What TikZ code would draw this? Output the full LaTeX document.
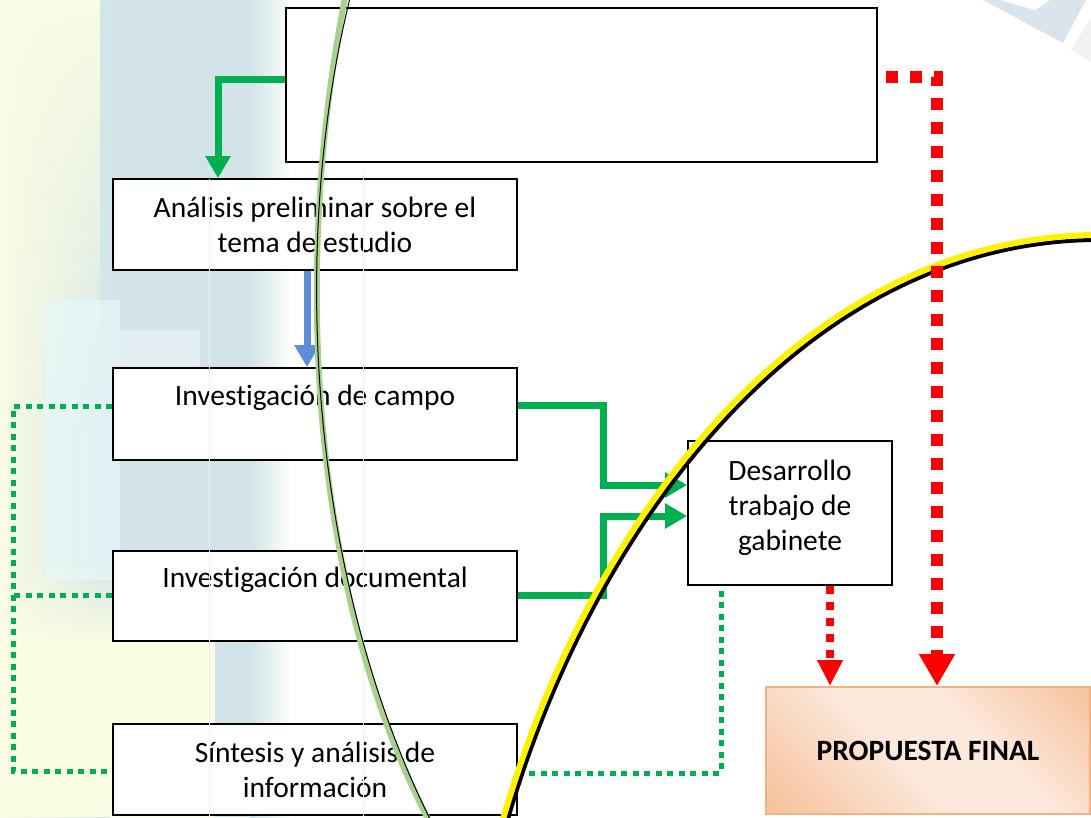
\documentclass[tikz,border=0pt]{standalone}
\usepackage{fontspec}
\setmainfont{Carlito}[Ligatures={TeX,NoCommon}, Contextuals={NoAlternate}]
\usetikzlibrary{arrows.meta,calc,fadings}
\definecolor{offgreen}{HTML}{00B050}
\definecolor{offblue}{HTML}{5B8ED6}
\definecolor{arcgreen}{HTML}{A9D18E}
\definecolor{peachdark}{HTML}{F4B080}
\definecolor{peachlight}{HTML}{FCE9DC}
\definecolor{peachborder}{HTML}{F4B183}
\definecolor{bgblue}{HTML}{D2E4E8}
\definecolor{bgyellow}{HTML}{FAFCE4}
\definecolor{bgcyan}{HTML}{E6F7FA}
\definecolor{cornerblue}{HTML}{D9E4EC}
\pgfdeclarehorizontalshading{propshade}{100bp}{color(0bp)=(peachdark); color(22bp)=(peachdark!55!peachlight); color(45bp)=(peachlight); color(60bp)=(peachlight); color(80bp)=(peachdark!55!peachlight); color(100bp)=(peachdark)}
\begin{document}
\begin{tikzpicture}[x=1pt,y=-1pt,
  box/.style={draw=black, line width=1.8pt, fill=white, rectangle, inner sep=0pt},
  txt/.style={font=\fontsize{29.5}{35}\selectfont, align=center, inner sep=0pt},
  garr/.style={draw=offgreen, line width=7pt, -{Triangle[length=22pt,width=24pt]}},
  barr/.style={draw=offblue, line width=7pt, -{Triangle[length=22pt,width=24pt]}},
  rbig/.style={draw=red, line width=12.5pt, dash pattern=on 12pt off 12pt, dash phase=16pt, -{Triangle[length=32pt,width=34pt]}},
  rsmall/.style={draw=red, line width=8.5pt, dash pattern=on 8pt off 8pt, -{Triangle[length=26pt,width=24pt]}},
  gdot/.style={draw=offgreen, line width=5pt, dash pattern=on 6pt off 5.5pt},
]
\useasboundingbox (0,0) rectangle (1091,817);
% ---------- background ----------
\fill[white] (0,0) rectangle (1091,817);
\shade[left color=bgyellow, right color=bgblue] (0,0) rectangle (110,817);
\fill[bgblue] (110,0) rectangle (250,817);
\shade[left color=bgblue, right color=white] (250,0) rectangle (292,817);
\fill[bgyellow, path fading=south] (0,0) rectangle (100,440);
\fill[bgcyan, opacity=0.7] (45,300) rectangle (120,580);
\fill[white, opacity=0.35] (120,330) rectangle (200,420);
\fill[bgyellow, path fading=north] (0,560) rectangle (215,640);
\fill[bgyellow] (0,640) rectangle (215,817);
% top-right faint shapes
\fill[cornerblue] (983,0) -- (1063,43) -- (1086,0) -- cycle;
\fill[white] (1000,0) -- (1035,10) -- (1050,0) -- cycle;
\fill[gray!10] (1071,50) -- (1091,62) -- (1091,18) -- cycle;

% ---------- boxes ----------
\node[box, minimum width=591pt, minimum height=154pt] (top) at (581.5,85) {};
\node[box, txt, minimum width=404pt, minimum height=91pt] (ana) at (315,224.5) {Análisis preliminar sobre el\\tema de estudio};
\node[box, minimum width=404pt, minimum height=92pt] (campo) at (315,414) {};
\node[txt] (campoT) at (315,398) {Investigación de campo};
\node[box, minimum width=404pt, minimum height=90pt] (doc) at (315,596) {};
\node[txt] (docT) at (315,580) {Investigación documental};
\node[box, txt, minimum width=404pt, minimum height=91pt] (sint) at (315,769.5) {Síntesis y análisis de\\información};
\node[box, minimum width=204pt, minimum height=144pt] (des) at (790,513) {};
\node[txt] (desT) at (790,508) {Desarrollo\\trabajo de\\gabinete};
\node[draw=peachborder, line width=2pt, inner sep=0pt, minimum width=324pt, minimum height=127pt,
      shading=propshade, shading angle=45,
      font=\fontsize{29.5}{35}\selectfont\bfseries] (prop) at (928,750.5) {PROPUESTA FINAL};

% faint table lines
\draw[gray!12, line width=0.5pt] (209,179) -- (209,817);
\draw[gray!12, line width=0.5pt] (363,170) -- (363,817);

% ---------- connectors ----------
\draw[garr] ([yshift=6pt]top.west) -| ([xshift=-97pt]ana.north);
\draw[barr] ([xshift=-8pt]ana.south) -- ([xshift=-8pt]campo.north);
\draw[garr] ([yshift=9pt]campo.east) -- ++(86,0) |- ([yshift=28pt]des.west);
\draw[garr] ([yshift=1pt]doc.east) -- ++(86,0) |- ([yshift=-3pt]des.west);
\draw[gdot] ([yshift=8pt]campo.west) -- ++(-99,0) |- ([yshift=-1.5pt]sint.west);
\draw[gdot] ([yshift=1pt]doc.west) -- ++(-99,0);
\draw[gdot] ([yshift=-3.5pt]sint.east) -| ([xshift=-69pt]des.south);

% ---------- arcs ----------
\draw[arcgreen, line width=6pt] (345,-2) .. controls (295,250) and (305,580) .. (428,819);
\draw[black, line width=1pt] (350,-2) .. controls (288,250) and (311,580) .. (430,819);
\draw[black, line width=4pt] (508,819) .. controls (594,524) and (804,244) .. (1093,240);
\draw[yellow, line width=6pt] (503,819) .. controls (590,520) and (800,240) .. (1093,235);

% ---------- red connectors ----------
\draw[rbig] ([yshift=8pt]top.east) -| ([xshift=9pt]prop.north);
\draw[rsmall] ([xshift=40pt]des.south) -- ([xshift=40pt]des.south |- prop.north);
\end{tikzpicture}
\end{document}
